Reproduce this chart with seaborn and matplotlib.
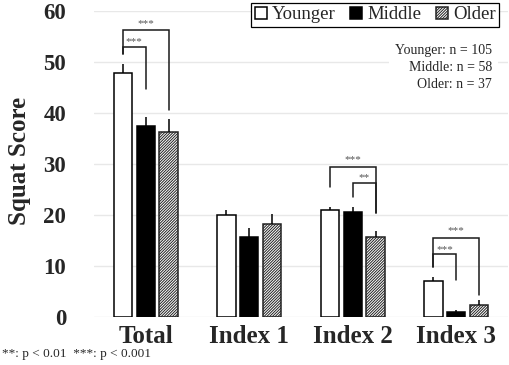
import matplotlib
matplotlib.use("Agg")
import matplotlib.pyplot as plt
import seaborn as sns
import pandas as pd
import numpy as np
from matplotlib.patches import Patch

# ---- data ----
categories = ["Total", "Index 1", "Index 2", "Index 3"]
groups = ["Younger", "Middle", "Older"]
younger_mean = [47.8, 19.9, 20.9, 7.0]
middle_mean = [37.3, 15.6, 20.6, 0.86]
older_mean = [36.2, 18.2, 15.6, 2.35]
younger_err = [1.7, 1.0, 0.7, 0.8]
middle_err = [1.9, 1.7, 1.0, 0.4]
older_err = [2.5, 1.9, 1.3, 0.95]
n_text = ["Younger: n = 105", "Middle: n = 58", "Older: n = 37"]
y_ticks = [0, 10, 20, 30, 40, 50, 60]
# significance brackets: (category index, group a, group b, top, a-leg bottom, b-leg bottom, star y, label)
brackets = [
    (0, 0, 1, 52.9, 51.5, 44.6, 53.9, "***"),
    (0, 0, 2, 56.2, 51.5, 40.5, 57.5, "***"),
    (2, 0, 2, 29.4, 25.4, 20.3, 30.9, "***"),
    (2, 1, 2, 26.3, 23.5, 20.3, 27.3, "**"),
    (3, 0, 1, 12.3, 9.7, 7.2, 13.2, "***"),
    (3, 0, 2, 15.4, 9.7, 4.25, 16.8, "***"),
]

df = pd.DataFrame({
    "category": categories * 3,
    "group": [g for g in groups for _ in categories],
    "value": younger_mean + middle_mean + older_mean,
})
errs = [younger_err, middle_err, older_err]

sns.set_style("white")
plt.rcParams["font.family"] = ["Liberation Serif", "DejaVu Serif"]
plt.rcParams["hatch.linewidth"] = 0.7
HATCH = "////////////"

fig = plt.figure(figsize=(5.1, 3.65), dpi=100)
ax = fig.add_axes([94 / 510, 1 - 316.7 / 365, 414 / 510, (316.7 - 10.7) / 365])

palette = {"Younger": "white", "Middle": "black", "Older": "white"}
sns.barplot(data=df, x="category", y="value", hue="group", order=categories,
            hue_order=groups, palette=palette, width=0.66, gap=0.19,
            edgecolor="black", linewidth=1.1, legend=False, ax=ax, errorbar=None)

n_cat = len(categories)
bars = list(ax.patches)
centers = {}
for gi, g in enumerate(groups):
    gbars = bars[gi * n_cat:(gi + 1) * n_cat]
    for ci, b in enumerate(gbars):
        if g == "Older":
            b.set_hatch(HATCH)
            b.set_edgecolor("#222222")
        cx = b.get_x() + b.get_width() / 2
        centers[(ci, gi)] = cx
        top = b.get_height()
        ax.plot([cx, cx], [top, top + errs[gi][ci]], color="black", lw=1.1,
                zorder=1.5, solid_capstyle="butt")

for ci, a, bb, top, la, lb, sy, lab in brackets:
    xa, xb = centers[(ci, a)], centers[(ci, bb)]
    ax.plot([xa, xa, xb, xb], [la, top, top, lb], color="#1a1a1a", lw=1.1,
            solid_joinstyle="miter", zorder=3)
    ax.text((xa + xb) / 2, sy, lab, ha="center", va="center", fontsize=8,
            color="#555555", zorder=3)

ax.set_xlim(-0.5, 3.5)
ax.set_ylim(0, 60)
ax.set_yticks(y_ticks)
ax.yaxis.grid(True, color="#e8e8e8", lw=1.0)
ax.set_axisbelow(True)
for s in ax.spines.values():
    s.set_visible(False)
ax.tick_params(axis="y", length=0, pad=20, labelsize=16.5)
ax.tick_params(axis="x", length=0, pad=6, labelsize=18)
for t in ax.get_yticklabels() + ax.get_xticklabels():
    t.set_fontweight("bold")
ax.set_xlabel("")
ax.set_ylabel("")
fig.text(20 / 510, 1 - 161 / 365, "Squat Score", rotation=90, ha="center",
         va="center", fontsize=18, fontweight="bold")

handles = [Patch(facecolor="white", edgecolor="black", lw=1.1),
           Patch(facecolor="black", edgecolor="black", lw=1.1),
           Patch(facecolor="white", edgecolor="#222222", lw=1.1, hatch=HATCH)]
leg = fig.legend(handles, groups, loc="upper right", ncol=3,
                 bbox_to_anchor=(499 / 510, 1 - 3 / 365), borderaxespad=0,
                 fontsize=13.5, frameon=True, fancybox=False, framealpha=1,
                 edgecolor="black", handlelength=0.65, handleheight=0.65,
                 handletextpad=0.28, columnspacing=0.75, borderpad=0.18)
leg.get_frame().set_linewidth(0.9)

fig.text(492 / 510, 1 - 67.5 / 365, "\n".join(n_text), ha="right", va="center",
         multialignment="right", fontsize=10, linespacing=1.38,
         bbox=dict(facecolor="white", edgecolor="none", pad=4))

fig.text(2 / 510, 1 - 356.5 / 365, "**: p < 0.01  ***: p < 0.001", ha="left",
         va="baseline", fontsize=9.5)

fig.savefig("out.png", dpi=100)
